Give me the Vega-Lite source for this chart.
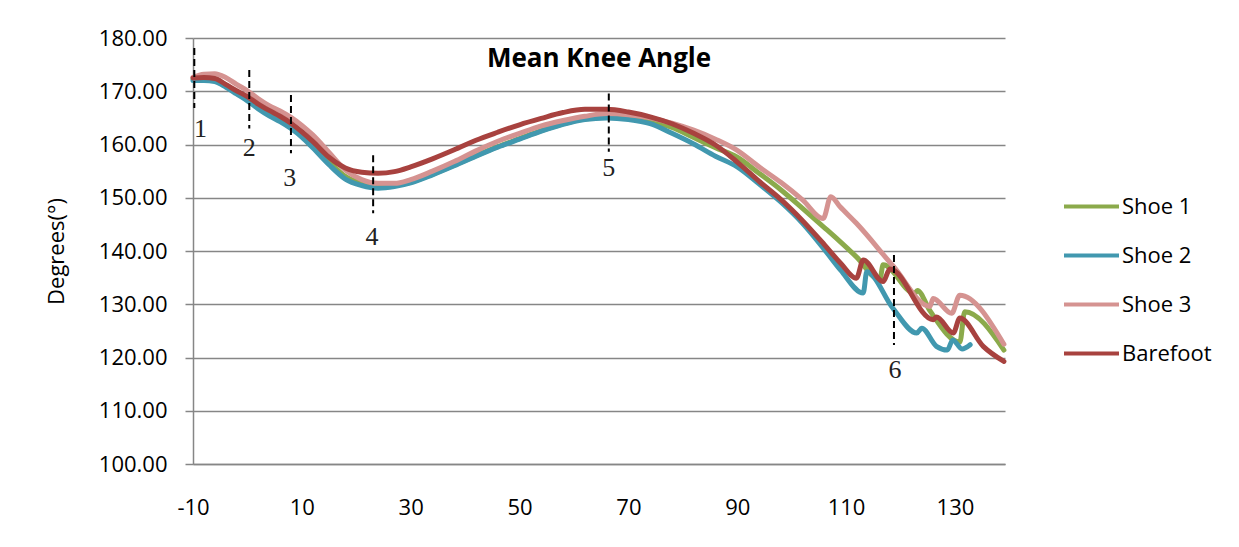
{
  "$schema": "https://vega.github.io/schema/vega-lite/v6.json",
  "width": 812,
  "height": 426,
  "autosize": "none",
  "padding": {"left": 193, "top": 38, "right": 234, "bottom": 83},
  "background": "white",
  "title": {"text": "Mean Knee Angle", "font": "Open Sans", "fontSize": 26, "fontWeight": "bold", "anchor": "middle", "frame": "group", "baseline": "alphabetic", "offset": -66, "color": "#000000"},
  "datasets": {
    "series": [
      {"s":"Shoe 1","t":-10,"v":172.3},{"s":"Shoe 1","t":-8,"v":172.4},{"s":"Shoe 1","t":-6,"v":172.2},{"s":"Shoe 1","t":-4,"v":171.2},{"s":"Shoe 1","t":-2,"v":169.9},{"s":"Shoe 1","t":0,"v":168.8},{"s":"Shoe 1","t":2,"v":167.2},{"s":"Shoe 1","t":4,"v":165.9},{"s":"Shoe 1","t":6,"v":164.9},{"s":"Shoe 1","t":8,"v":163.6},{"s":"Shoe 1","t":10,"v":162.0},{"s":"Shoe 1","t":12,"v":160.0},{"s":"Shoe 1","t":15,"v":156.8},{"s":"Shoe 1","t":18,"v":154.0},{"s":"Shoe 1","t":21,"v":152.7},{"s":"Shoe 1","t":24,"v":152.1},{"s":"Shoe 1","t":27,"v":152.3},{"s":"Shoe 1","t":30,"v":152.9},{"s":"Shoe 1","t":34,"v":154.4},{"s":"Shoe 1","t":38,"v":156.1},{"s":"Shoe 1","t":42,"v":157.9},{"s":"Shoe 1","t":46,"v":159.6},{"s":"Shoe 1","t":50,"v":161.1},{"s":"Shoe 1","t":54,"v":162.6},{"s":"Shoe 1","t":58,"v":163.9},{"s":"Shoe 1","t":62,"v":164.8},{"s":"Shoe 1","t":66,"v":165.1},{"s":"Shoe 1","t":70,"v":164.9},{"s":"Shoe 1","t":74,"v":164.3},{"s":"Shoe 1","t":78,"v":163.2},{"s":"Shoe 1","t":82,"v":161.3},{"s":"Shoe 1","t":86,"v":159.4},{"s":"Shoe 1","t":90,"v":157.6},{"s":"Shoe 1","t":94,"v":154.6},{"s":"Shoe 1","t":98,"v":151.5},{"s":"Shoe 1","t":102,"v":148.0},{"s":"Shoe 1","t":106,"v":144.4},{"s":"Shoe 1","t":108.9,"v":141.75},{"s":"Shoe 1","t":111.9,"v":138.9},{"s":"Shoe 1","t":116.2,"v":134.6},{"s":"Shoe 1","t":116.8,"v":137.4},{"s":"Shoe 1","t":122.6,"v":132.0},{"s":"Shoe 1","t":123.1,"v":132.6},{"s":"Shoe 1","t":125.4,"v":128.8},{"s":"Shoe 1","t":130.9,"v":122.9},{"s":"Shoe 1","t":131.8,"v":128.6},{"s":"Shoe 1","t":139,"v":121.4},
      {"s":"Shoe 2","t":-10,"v":172.0},{"s":"Shoe 2","t":-8,"v":172.0},{"s":"Shoe 2","t":-6,"v":171.8},{"s":"Shoe 2","t":-4,"v":170.8},{"s":"Shoe 2","t":-2,"v":169.5},{"s":"Shoe 2","t":0,"v":168.2},{"s":"Shoe 2","t":2,"v":166.7},{"s":"Shoe 2","t":4,"v":165.4},{"s":"Shoe 2","t":6,"v":164.3},{"s":"Shoe 2","t":8,"v":163.0},{"s":"Shoe 2","t":10,"v":161.4},{"s":"Shoe 2","t":12,"v":159.4},{"s":"Shoe 2","t":15,"v":156.2},{"s":"Shoe 2","t":18,"v":153.5},{"s":"Shoe 2","t":21,"v":152.3},{"s":"Shoe 2","t":24,"v":151.8},{"s":"Shoe 2","t":27,"v":152.1},{"s":"Shoe 2","t":30,"v":152.8},{"s":"Shoe 2","t":34,"v":154.3},{"s":"Shoe 2","t":38,"v":156.0},{"s":"Shoe 2","t":42,"v":157.8},{"s":"Shoe 2","t":46,"v":159.5},{"s":"Shoe 2","t":50,"v":161.0},{"s":"Shoe 2","t":54,"v":162.5},{"s":"Shoe 2","t":58,"v":163.8},{"s":"Shoe 2","t":62,"v":164.7},{"s":"Shoe 2","t":66,"v":165.0},{"s":"Shoe 2","t":70,"v":164.7},{"s":"Shoe 2","t":74,"v":163.9},{"s":"Shoe 2","t":78,"v":162.1},{"s":"Shoe 2","t":82,"v":160.1},{"s":"Shoe 2","t":86,"v":157.8},{"s":"Shoe 2","t":90,"v":155.8},{"s":"Shoe 2","t":94,"v":152.6},{"s":"Shoe 2","t":98,"v":149.2},{"s":"Shoe 2","t":102,"v":145.2},{"s":"Shoe 2","t":106,"v":140.3},{"s":"Shoe 2","t":109,"v":136.4},{"s":"Shoe 2","t":113.15,"v":132.1},{"s":"Shoe 2","t":113.8,"v":136.1},{"s":"Shoe 2","t":118.6,"v":129.25},{"s":"Shoe 2","t":123,"v":124.6},{"s":"Shoe 2","t":123.9,"v":125.5},{"s":"Shoe 2","t":126.6,"v":122.1},{"s":"Shoe 2","t":128.6,"v":121.4},{"s":"Shoe 2","t":129.6,"v":123.3},{"s":"Shoe 2","t":131.3,"v":121.6},{"s":"Shoe 2","t":132.8,"v":122.4},
      {"s":"Shoe 3","t":-10,"v":172.6},{"s":"Shoe 3","t":-8,"v":173.2},{"s":"Shoe 3","t":-6,"v":173.3},{"s":"Shoe 3","t":-4,"v":172.6},{"s":"Shoe 3","t":-2,"v":171.3},{"s":"Shoe 3","t":0,"v":170.1},{"s":"Shoe 3","t":2,"v":168.6},{"s":"Shoe 3","t":4,"v":167.3},{"s":"Shoe 3","t":6,"v":166.3},{"s":"Shoe 3","t":8,"v":165.1},{"s":"Shoe 3","t":10,"v":163.6},{"s":"Shoe 3","t":12,"v":161.8},{"s":"Shoe 3","t":15,"v":158.5},{"s":"Shoe 3","t":18,"v":155.2},{"s":"Shoe 3","t":21,"v":153.4},{"s":"Shoe 3","t":24,"v":152.7},{"s":"Shoe 3","t":27,"v":152.7},{"s":"Shoe 3","t":30,"v":153.4},{"s":"Shoe 3","t":34,"v":155.0},{"s":"Shoe 3","t":38,"v":156.8},{"s":"Shoe 3","t":42,"v":158.8},{"s":"Shoe 3","t":46,"v":160.6},{"s":"Shoe 3","t":50,"v":162.1},{"s":"Shoe 3","t":54,"v":163.5},{"s":"Shoe 3","t":58,"v":164.5},{"s":"Shoe 3","t":62,"v":165.3},{"s":"Shoe 3","t":66,"v":165.8},{"s":"Shoe 3","t":70,"v":165.6},{"s":"Shoe 3","t":74,"v":165.0},{"s":"Shoe 3","t":78,"v":164.0},{"s":"Shoe 3","t":82,"v":162.7},{"s":"Shoe 3","t":86,"v":161.0},{"s":"Shoe 3","t":90,"v":158.9},{"s":"Shoe 3","t":94,"v":155.8},{"s":"Shoe 3","t":98,"v":152.9},{"s":"Shoe 3","t":102,"v":149.6},{"s":"Shoe 3","t":105.8,"v":146.1},{"s":"Shoe 3","t":107.2,"v":150.2},{"s":"Shoe 3","t":108.9,"v":148.3},{"s":"Shoe 3","t":111.9,"v":145.2},{"s":"Shoe 3","t":118.7,"v":137.1},{"s":"Shoe 3","t":125.4,"v":129.6},{"s":"Shoe 3","t":126.0,"v":131.1},{"s":"Shoe 3","t":129.4,"v":128.3},{"s":"Shoe 3","t":130.9,"v":131.7},{"s":"Shoe 3","t":139,"v":122.5},
      {"s":"Barefoot","t":-10,"v":172.5},{"s":"Barefoot","t":-8,"v":172.6},{"s":"Barefoot","t":-6,"v":172.4},{"s":"Barefoot","t":-4,"v":171.3},{"s":"Barefoot","t":-2,"v":170.1},{"s":"Barefoot","t":0,"v":169.0},{"s":"Barefoot","t":2,"v":167.6},{"s":"Barefoot","t":4,"v":166.4},{"s":"Barefoot","t":6,"v":165.3},{"s":"Barefoot","t":8,"v":164.0},{"s":"Barefoot","t":10,"v":162.4},{"s":"Barefoot","t":12,"v":160.6},{"s":"Barefoot","t":15,"v":157.6},{"s":"Barefoot","t":18,"v":155.6},{"s":"Barefoot","t":21,"v":154.8},{"s":"Barefoot","t":24,"v":154.6},{"s":"Barefoot","t":27,"v":154.9},{"s":"Barefoot","t":30,"v":155.8},{"s":"Barefoot","t":34,"v":157.3},{"s":"Barefoot","t":38,"v":159.0},{"s":"Barefoot","t":42,"v":160.8},{"s":"Barefoot","t":46,"v":162.3},{"s":"Barefoot","t":50,"v":163.7},{"s":"Barefoot","t":54,"v":164.9},{"s":"Barefoot","t":58,"v":166.0},{"s":"Barefoot","t":62,"v":166.6},{"s":"Barefoot","t":66,"v":166.6},{"s":"Barefoot","t":70,"v":166.1},{"s":"Barefoot","t":74,"v":165.2},{"s":"Barefoot","t":78,"v":163.9},{"s":"Barefoot","t":82,"v":162.1},{"s":"Barefoot","t":86,"v":159.9},{"s":"Barefoot","t":90,"v":156.7},{"s":"Barefoot","t":94,"v":153.1},{"s":"Barefoot","t":98,"v":149.7},{"s":"Barefoot","t":102,"v":145.7},{"s":"Barefoot","t":106,"v":141.2},{"s":"Barefoot","t":109,"v":137.7},{"s":"Barefoot","t":111.9,"v":134.9},{"s":"Barefoot","t":113.15,"v":138.3},{"s":"Barefoot","t":116.8,"v":134.25},{"s":"Barefoot","t":118.05,"v":136.6},{"s":"Barefoot","t":126.0,"v":127.1},{"s":"Barefoot","t":126.6,"v":127.6},{"s":"Barefoot","t":129.7,"v":124.6},{"s":"Barefoot","t":130.9,"v":127.4},{"s":"Barefoot","t":135.2,"v":122.1},{"s":"Barefoot","t":139,"v":119.25}
    ],
    "marks": [
      {"id":"1","x":-9.76,"y1":178.1,"y2":166.85,"lx":-8.6,"ly":163.0},
      {"id":"2","x":0.34,"y1":174.0,"y2":163.0,"lx":0.34,"ly":159.3},
      {"id":"3","x":8.0,"y1":169.3,"y2":158.35,"lx":7.8,"ly":153.65},
      {"id":"4","x":23.1,"y1":158.0,"y2":147.1,"lx":22.9,"ly":142.7},
      {"id":"5","x":66.4,"y1":169.6,"y2":158.65,"lx":66.4,"ly":155.5},
      {"id":"6","x":118.8,"y1":139.25,"y2":122.35,"lx":119.0,"ly":117.65}
    ]
  },
  "layer": [
    {
      "data": {"name": "series"},
      "mark": {"type": "line", "strokeWidth": 5, "interpolate": "monotone", "strokeJoin": "round", "strokeCap": "round"},
      "encoding": {
        "x": {"field": "t", "type": "quantitative", "scale": {"domain": [-10, 139.2], "nice": false, "zero": false},
              "axis": {"values": [-10, 10, 30, 50, 70, 90, 110, 130], "labelExpr": "datum.value < 0 ? '-' + abs(datum.value) : datum.label", "title": null, "grid": false, "ticks": false, "domain": true, "domainColor": "#868686", "domainWidth": 1.5, "labelFont": "Open Sans", "labelFontSize": 22, "labelColor": "#000000", "labelPadding": 33, "labelFlush": false}},
        "y": {"field": "v", "type": "quantitative", "scale": {"domain": [100, 180], "nice": false, "zero": false},
              "axis": {"values": [100, 110, 120, 130, 140, 150, 160, 170, 180], "format": ".2f", "title": "Degrees(°)", "titleFont": "Open Sans", "titleFontSize": 22, "titleFontWeight": "normal", "titleColor": "#000000", "titlePadding": 30, "grid": true, "gridColor": "#868686", "gridWidth": 1.5, "domain": true, "domainColor": "#868686", "domainWidth": 1.5, "ticks": true, "tickSize": 8, "tickColor": "#868686", "tickWidth": 1.5, "labelFont": "Open Sans", "labelFontSize": 22, "labelColor": "#000000", "labelPadding": 18}},
        "color": {"field": "s", "type": "nominal", "sort": ["Shoe 1", "Shoe 2", "Shoe 3", "Barefoot"],
                  "scale": {"domain": ["Shoe 1", "Shoe 2", "Shoe 3", "Barefoot"], "range": ["#8BAA4B", "#4198AF", "#D59391", "#A8423F"]},
                  "legend": {"title": null, "orient": "none", "legendX": 869, "legendY": 139, "symbolType": "stroke", "symbolSize": 3025, "symbolStrokeWidth": 4, "labelFont": "Open Sans", "labelFontSize": 22, "labelColor": "#000000", "labelOffset": 1, "rowPadding": 8, "padding": 0}},
        "order": {"field": "t", "type": "quantitative"}
      }
    },
    {
      "data": {"name": "marks"},
      "mark": {"type": "rule", "color": "#000000", "strokeWidth": 2, "strokeDash": [7, 4]},
      "encoding": {
        "x": {"field": "x", "type": "quantitative"},
        "y": {"field": "y1", "type": "quantitative"},
        "y2": {"field": "y2"}
      }
    },
    {
      "data": {"name": "marks"},
      "mark": {"type": "text", "font": "Liberation Serif", "fontSize": 26, "color": "#222222", "align": "center", "baseline": "middle"},
      "encoding": {
        "x": {"field": "lx", "type": "quantitative"},
        "y": {"field": "ly", "type": "quantitative"},
        "text": {"field": "id"}
      }
    }
  ],
  "config": {"view": {"stroke": null}}
}
